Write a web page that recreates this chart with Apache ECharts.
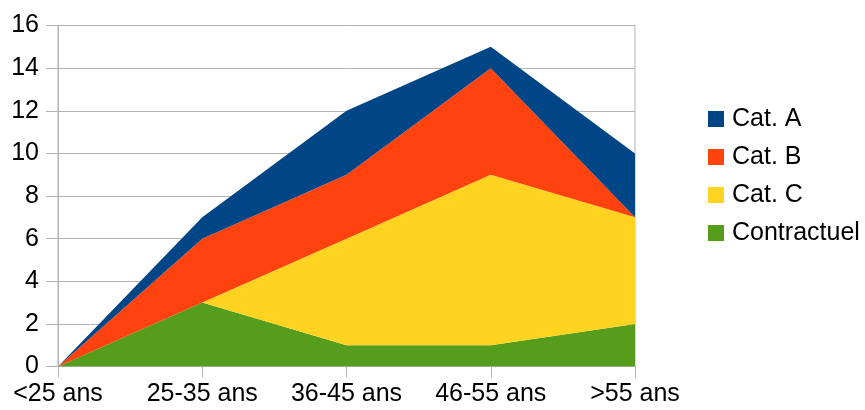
<!DOCTYPE html>
<html><head><meta charset="utf-8">
<script src="https://cdn.jsdelivr.net/npm/echarts@6/dist/echarts.min.js"></script>
<style>html,body{margin:0;padding:0;background:#fff}#c{width:865px;height:410px}</style>
</head><body><div id="c"></div>
<script>
var categories = ['<25 ans', '25-35 ans', '36-45 ans', '46-55 ans', '>55 ans'];
var contractuel = [0, 3, 1, 1, 2];
var catC = [0, 0, 5, 8, 5];
var catB = [0, 3, 3, 5, 0];
var catA = [0, 1, 3, 1, 3];
var yTicks = {min: 0, max: 16, interval: 2};

var font = 'Liberation Sans';
var chart = echarts.init(document.getElementById('c'), null, {renderer: 'canvas'});
function s(name, data, color) {
  return {
    name: name, type: 'line', stack: 'total', data: data,
    symbol: 'none', lineStyle: {width: 0}, areaStyle: {color: color, opacity: 1},
    itemStyle: {color: color}, emphasis: {disabled: true}, animation: false
  };
}
chart.setOption({
  animation: false,
  grid: {left: 58, right: 230, top: 25.5, bottom: 43.5, show: true, borderColor: '#b3b3b3', borderWidth: 1},
  legend: {
    orient: 'vertical', left: 703, top: 101.5, itemWidth: 16, itemHeight: 16, itemGap: 13, icon: 'rect',
    textStyle: {fontFamily: font, fontSize: 25, color: '#000', padding: [0, 0, 0, 3]},
    data: ['Cat. A', 'Cat. B', 'Cat. C', 'Contractuel']
  },
  xAxis: {
    type: 'category', data: categories, boundaryGap: false,
    axisLine: {show: true, lineStyle: {color: '#b3b3b3'}},
    axisTick: {show: true, length: 11, lineStyle: {color: '#b3b3b3'}},
    axisLabel: {fontFamily: font, fontSize: 25, color: '#000', margin: 15, interval: 0}
  },
  yAxis: {
    type: 'value', min: yTicks.min, max: yTicks.max, interval: yTicks.interval,
    axisLine: {show: true, lineStyle: {color: '#b3b3b3'}},
    axisTick: {show: true, length: 12, lineStyle: {color: '#b3b3b3'}},
    splitLine: {lineStyle: {color: '#b3b3b3'}},
    axisLabel: {fontFamily: font, fontSize: 25, color: '#000', margin: 19}
  },
  series: [
    s('Contractuel', contractuel, '#579d1c'),
    s('Cat. C', catC, '#ffd320'),
    s('Cat. B', catB, '#ff420e'),
    s('Cat. A', catA, '#004586')
  ]
});
</script></body></html>
